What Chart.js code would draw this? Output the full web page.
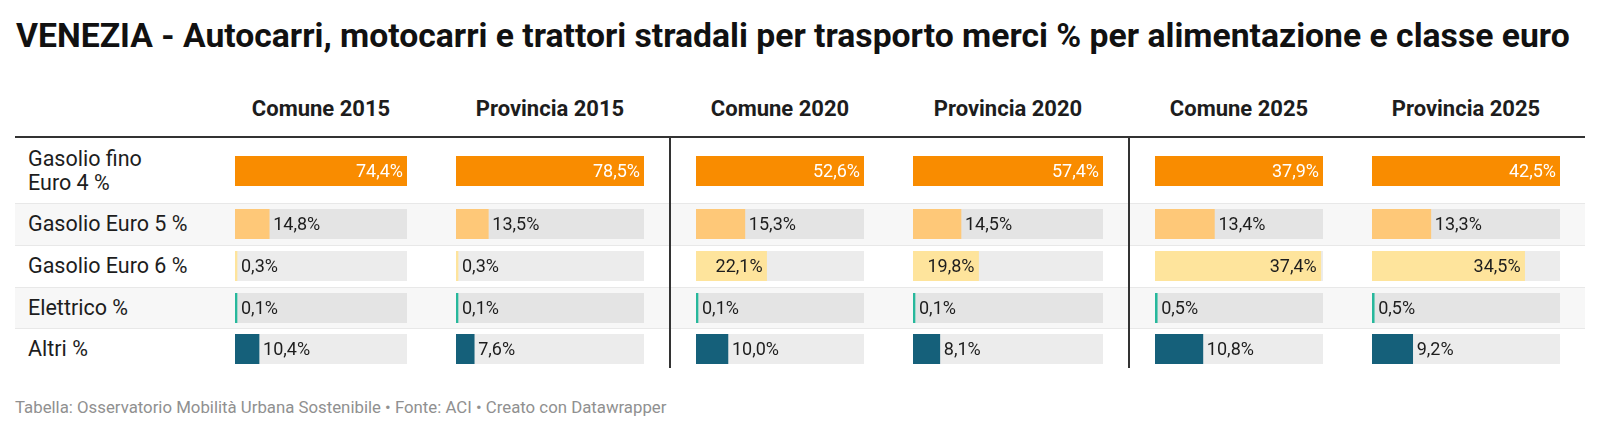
<!DOCTYPE html>
<html lang="it">
<head>
<meta charset="utf-8">
<title>Venezia - Autocarri per alimentazione e classe euro</title>
<script src="https://cdn.jsdelivr.net/npm/chart.js@4"></script>
<style>
    html, body {
        margin: 0;
        padding: 0;
        background: #ffffff;
    }
    body {
        width: 1600px;
        height: 434px;
        position: relative;
        overflow: hidden;
        font-family: Roboto, "Noto Sans", sans-serif;
        color: #1d1d1d;
    }
    .abs {
        position: absolute;
    }
    #title {
        left: 16px;
        top: 14px;
        font-size: 33.7px;
        font-weight: 700;
        line-height: 44px;
        white-space: nowrap;
        color: #111;
    }
    .head {
        top: 94px;
        height: 30px;
        line-height: 30px;
        font-size: 22px;
        font-weight: 700;
        text-align: center;
        white-space: nowrap;
    }
    .row {
        left: 15px;
        width: 1570px;
        border-top: 1px solid #e8e8e8;
        box-sizing: border-box;
    }
    .row.alt {
        background: #f7f7f7;
    }
    .label {
        left: 28px;
        font-size: 21.5px;
        line-height: 24px;
        white-space: pre;
    }
    .cell canvas {
        display: block;
        background: rgba(0, 0, 0, 0.075);
    }
    #rule {
        left: 15px;
        top: 136px;
        width: 1570px;
        height: 2px;
        background: #333;
    }
    .sep {
        top: 137px;
        width: 2px;
        height: 231px;
        background: #333;
    }
    #footer {
        left: 15px;
        top: 396px;
        font-size: 16.8px;
        line-height: 22px;
        color: #909090;
        white-space: nowrap;
    }
</style>
</head>
<body>
<div id="title" class="abs">VENEZIA - Autocarri, motocarri e trattori stradali per trasporto merci % per alimentazione e classe euro</div>
<div id="table"></div>
<div id="footer" class="abs">Tabella: Osservatorio Mobilità Urbana Sostenibile • Fonte: ACI • Creato con Datawrapper</div>

<script>
const categories = ['Gasolio fino\nEuro 4 %', 'Gasolio Euro 5 %', 'Gasolio Euro 6 %', 'Elettrico %', 'Altri %'];
const columns = ['Comune 2015', 'Provincia 2015', 'Comune 2020', 'Provincia 2020', 'Comune 2025', 'Provincia 2025'];
const comune2015 = [74.4, 14.8, 0.3, 0.1, 10.4];
const provincia2015 = [78.5, 13.5, 0.3, 0.1, 7.6];
const comune2020 = [52.6, 15.3, 22.1, 0.1, 10.0];
const provincia2020 = [57.4, 14.5, 19.8, 0.1, 8.1];
const comune2025 = [37.9, 13.4, 37.4, 0.5, 10.8];
const provincia2025 = [42.5, 13.3, 34.5, 0.5, 9.2];

const series = [comune2015, provincia2015, comune2020, provincia2020, comune2025, provincia2025];

// One colour per category (row)
const rowColors = ['#f98c00', '#fec878', '#fee49c', '#27b89c', '#15607a'];
const rowLabelInside = ['#ffffff', '#1d1d1d', '#1d1d1d', '#1d1d1d', '#ffffff'];

// Layout of the table (pixels)
const colLeft = [235, 456, 696, 913, 1155, 1372];
const colWidth = [172, 188, 168, 190, 168, 188];
const rowTop = [138, 203, 245, 287, 328];
const rowHeight = [65, 42, 42, 41, 41];
const separators = [669, 1128];
const barHeight = 30;

const fmt = v => v.toFixed(1).replace('.', ',') + '%';

// Value labels: inside the bar when they fit, otherwise just after it
const valueLabels = {
    id: 'valueLabels',
    afterDatasetsDraw(chart, args, opts) {
        const ctx = chart.ctx;
        const meta = chart.getDatasetMeta(0);
        const values = chart.data.datasets[0].data;
        ctx.save();
        ctx.font = '18px Roboto, "Noto Sans", sans-serif';
        ctx.textBaseline = 'middle';
        meta.data.forEach((bar, i) => {
            const text = fmt(values[i]);
            const tw = ctx.measureText(text).width;
            const w = bar.x - bar.base;
            if (w >= tw + 16) {
                ctx.fillStyle = opts.insideColor;
                ctx.textAlign = 'right';
                ctx.fillText(text, bar.x - 4, bar.y + 1);
            } else {
                ctx.fillStyle = '#1d1d1d';
                ctx.textAlign = 'left';
                ctx.fillText(text, bar.x + 4, bar.y + 1);
            }
        });
        ctx.restore();
    }
};

function addDiv(cls, style, text) {
    const d = document.createElement('div');
    d.className = 'abs ' + cls;
    Object.assign(d.style, style);
    if (text !== undefined) d.textContent = text;
    document.getElementById('table').appendChild(d);
    return d;
}

function buildTable() {
    // row backgrounds, dividers and row labels
    categories.forEach((cat, r) => {
        addDiv('row' + (r % 2 === 1 ? ' alt' : ''), {
            top: rowTop[r] + 'px',
            height: rowHeight[r] + 'px',
            borderTopColor: r === 0 ? 'transparent' : '#e8e8e8'
        });
        const lines = cat.split('\n').length;
        addDiv('label', {
            top: (rowTop[r] + rowHeight[r] / 2 - lines * 12) + 'px'
        }, cat);
    });

    // header
    columns.forEach((name, c) => {
        addDiv('head', {
            left: (colLeft[c] - 30) + 'px',
            width: (colWidth[c] + 60) + 'px'
        }, name);
    });
    addDiv('', {}).id = 'rule';
    separators.forEach(x => addDiv('sep', { left: x + 'px' }));

    // bar cells, each column scaled to its own maximum
    series.forEach((values, c) => {
        const colMax = Math.max(...values);
        categories.forEach((cat, r) => {
            const cell = addDiv('cell', {
                left: colLeft[c] + 'px',
                top: (rowTop[r] + Math.round((rowHeight[r] - barHeight) / 2)) + 'px'
            });
            const canvas = document.createElement('canvas');
            canvas.width = colWidth[c];
            canvas.height = barHeight;
            cell.appendChild(canvas);

            new Chart(canvas.getContext('2d'), {
                type: 'bar',
                data: {
                    labels: [cat],
                    datasets: [{
                        data: [values[r]],
                        backgroundColor: rowColors[r],
                        borderWidth: 0,
                        barPercentage: 1,
                        categoryPercentage: 1,
                        minBarLength: 2
                    }]
                },
                options: {
                    indexAxis: 'y',
                    responsive: false,
                    animation: false,
                    devicePixelRatio: 1,
                    layout: { padding: 0 },
                    plugins: {
                        legend: { display: false },
                        tooltip: { enabled: false },
                        valueLabels: { insideColor: rowLabelInside[r] }
                    },
                    scales: {
                        x: { display: false, min: 0, max: colMax },
                        y: { display: false }
                    }
                },
                plugins: [valueLabels]
            });
        });
    });
}

document.addEventListener('DOMContentLoaded', buildTable);
</script>
</body>
</html>
